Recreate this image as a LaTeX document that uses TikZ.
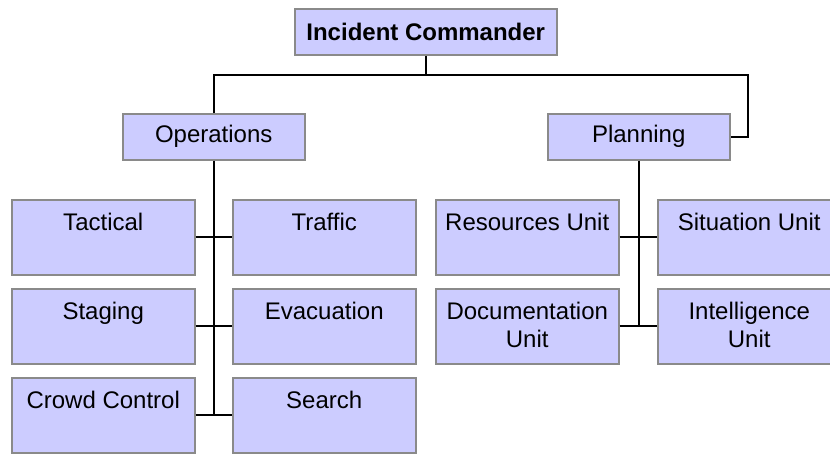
\documentclass[tikz,border=0pt]{standalone}
\usepackage{fontspec}
\setmainfont{Liberation Sans}
\definecolor{boxfill}{HTML}{CCCCFF}
\definecolor{boxline}{HTML}{8A8A8A}
\newcommand\unitbox[1]{\parbox[c][75pt][t]{183pt}{\centering\rule{0pt}{31pt}#1}}
\begin{document}
\begin{tikzpicture}[x=1pt,y=-1pt,
  font=\fontsize{24pt}{28pt}\selectfont,
  box/.style={draw=boxline, fill=boxfill, line width=1.5pt, rectangle, inner sep=0pt},
  headbox/.style={box, minimum width=182pt, minimum height=46pt, anchor=north west},
  unit/.style={box, anchor=north west},
  link/.style={draw=black, line width=1.8pt}]
\useasboundingbox (0,0) rectangle (830,453);
\clip (0,0) rectangle (830,453);

% top level
\node[box, minimum width=262pt, minimum height=46pt, anchor=north west, font=\fontsize{24pt}{28pt}\selectfont\bfseries] (ic) at (294,8) {Incident Commander};
\node[headbox] (ops) at (122,113) {Operations};
\node[headbox] (pl) at (547,113) {Planning};

% operations units
\node[unit] (tac) at (11,199) {\unitbox{Tactical}};
\node[unit] (traf) at (232,199) {\unitbox{Traffic}};
\node[unit] (stag) at (11,288) {\unitbox{Staging}};
\node[unit] (evac) at (232,288) {\unitbox{Evacuation}};
\node[unit] (crowd) at (11,377) {\unitbox{Crowd Control}};
\node[unit] (search) at (232,377) {\unitbox{Search}};

% planning units
\node[unit] (res) at (435,199) {\unitbox{Resources Unit}};
\node[unit] (sit) at (657,199) {\unitbox{Situation Unit}};
\node[unit] (doc) at (435,288) {\unitbox{Documentation\\Unit}};
\node[unit] (intel) at (657,288) {\unitbox{Intelligence\\Unit}};

% connectors
\coordinate (jt) at (425,75);
\coordinate (jr) at (748,75);
\draw[link] (ic.south) -- (ic.south |- jt);
\draw[link] (ops.north) -- (ops.north |- jt) -- (jr) |- (pl.east);

\draw[link] (ops.south) -- (ops.south |- crowd.east);
\draw[link] (tac.east) -- (traf.west);
\draw[link] (stag.east) -- (evac.west);
\draw[link] (crowd.east) -- (search.west);

\draw[link] (pl.south) -- (pl.south |- doc.east);
\draw[link] (res.east) -- (sit.west);
\draw[link] (doc.east) -- (intel.west);
\end{tikzpicture}
\end{document}
